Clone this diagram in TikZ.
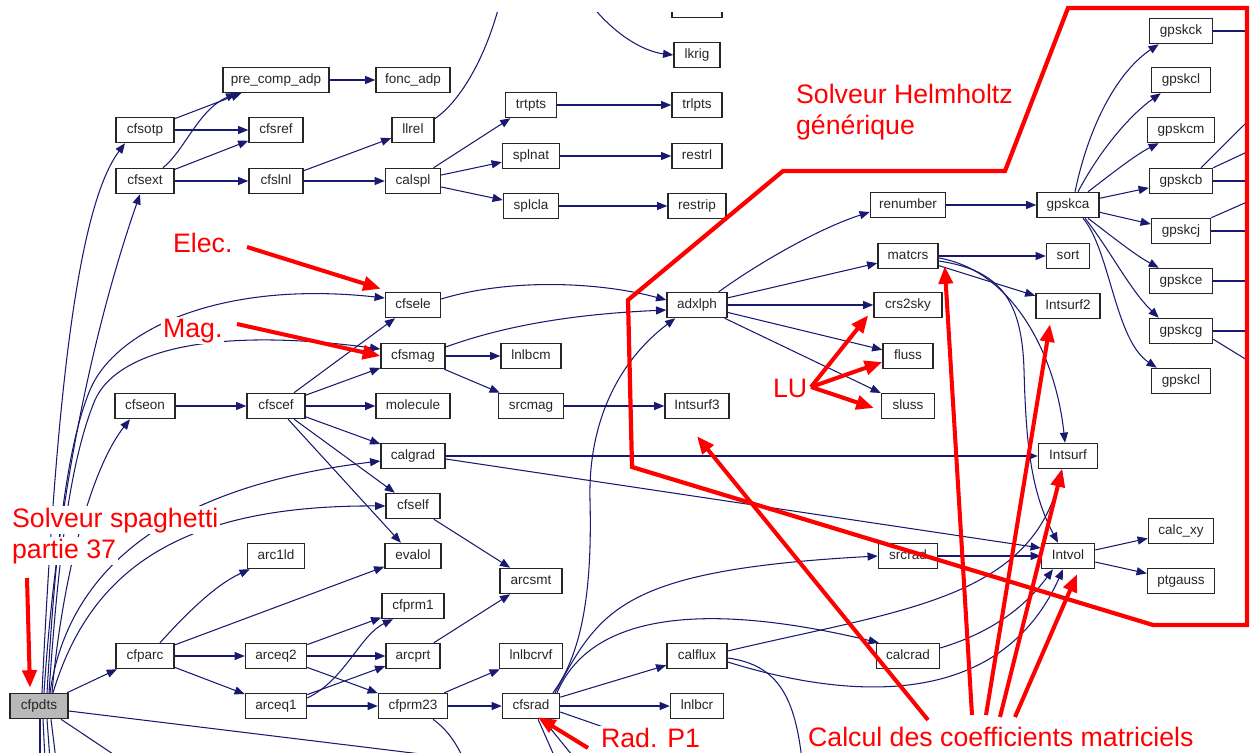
\documentclass[tikz,border=0pt]{standalone}
\usepackage{fontspec}
\setmainfont{Liberation Sans}
\usetikzlibrary{arrows.meta,calc}
\definecolor{edgeblue}{HTML}{191970}
\definecolor{annred}{HTML}{FF0000}
\newcommand\mknode[4]{\node[box,minimum width=#3*0.569pt] (#1) at (#2) {#4};}
\begin{document}
\begin{tikzpicture}[x=0.02cm,y=-0.02cm,
  box/.style={draw=black!85, line width=0.85pt, fill=white, minimum height=0.5cm, inner sep=0pt,
    font=\fontsize{7.7}{9}\selectfont, text=black!85, text height=5.4pt, text depth=1.6pt},
  e/.style={draw=edgeblue, line width=0.6pt, -{Triangle[length=5.8pt,width=4.6pt]}},
  en/.style={draw=edgeblue, line width=0.6pt},
  lab/.style={text=annred, fill=white, font=\fontsize{15.2}{18}\selectfont, inner sep=1pt, anchor=base west},
  ra/.style={draw=annred, line width=2.3pt, -{Triangle[length=10pt,width=8pt]}},
]
\useasboundingbox (0,0) rectangle (1250,753);
\begin{scope}
\clip (0,13) rectangle (1250,760);
% ---------- nodes ----------
\mknode{prec}{276,80}{106}{pre\_comp\_adp}
\mknode{foncadp}{413,80}{74}{fonc\_adp}
\mknode{cfsotp}{145,130}{58}{cfsotp}
\mknode{cfsref}{276,130}{54}{cfsref}
\mknode{llrel}{413,130}{42}{llrel}
\mknode{cfsext}{145,181}{58}{cfsext}
\mknode{cfslnl}{276,181}{54}{cfslnl}
\mknode{calspl}{413,181}{55}{calspl}
\mknode{trtpts}{531,105}{51}{trtpts}
\mknode{splnat}{531,156}{57}{splnat}
\mknode{splcla}{531,206}{55}{splcla}
\mknode{topbox}{697,5}{50}{}
\mknode{lkrig}{697,55}{46}{lkrig}
\mknode{trlpts}{697,105}{50}{trlpts}
\mknode{restrl}{697,156}{50}{restrl}
\mknode{restrip}{697,206}{58}{restrip}
\mknode{renumber}{908,205}{75}{renumber}
\mknode{gpskca}{1068,205}{62}{gpskca}
\mknode{matcrs}{908,256}{60}{matcrs}
\mknode{sort}{1068,256}{43}{sort}
\mknode{crssky}{908,305}{68}{crs2sky}
\mknode{intsurfb}{1068,306}{64}{Intsurf2}
\mknode{fluss}{908,356}{50}{fluss}
\mknode{sluss}{908,406}{53}{sluss}
\mknode{gpskck}{1181,31}{63}{gpskck}
\mknode{gpskcl}{1181,80}{59}{gpskcl}
\mknode{gpskcm}{1181,130}{67}{gpskcm}
\mknode{gpskcb}{1181,181}{63}{gpskcb}
\mknode{gpskcj}{1181,231}{59}{gpskcj}
\mknode{gpskce}{1181,281}{63}{gpskce}
\mknode{gpskcg}{1181,331}{63}{gpskcg}
\mknode{gpskclb}{1181,381}{59}{gpskcl}
\mknode{cfsele}{413,305}{55}{cfsele}
\mknode{cfsmag}{413,356}{64}{cfsmag}
\mknode{lnlbcm}{531,356}{60}{lnlbcm}
\mknode{adxlph}{697,305}{60}{adxlph}
\mknode{cfseon}{145,406}{60}{cfseon}
\mknode{cfscef}{276,406}{58}{cfscef}
\mknode{molecule}{413,406}{74}{molecule}
\mknode{srcmag}{531,406}{65}{srcmag}
\mknode{intsurfc}{697,406}{64}{Intsurf3}
\mknode{calgrad}{413,456}{64}{calgrad}
\mknode{intsurf}{1068,456}{59}{Intsurf}
\mknode{cfself}{413,506}{54}{cfself}
\mknode{evalol}{413,556}{56}{evalol}
\mknode{arcild}{276,556}{57}{arc1ld}
\mknode{arcsmt}{531,581}{62}{arcsmt}
\mknode{cfprmi}{413,606}{62}{cfprm1}
\mknode{cfparc}{145,656}{58}{cfparc}
\mknode{arceqb}{276,656}{61}{arceq2}
\mknode{arcprt}{413,656}{54}{arcprt}
\mknode{lnlbcrvf}{531,656}{63}{lnlbcrvf}
\mknode{calflux}{697,656}{60}{calflux}
\mknode{calcrad}{908,656}{63}{calcrad}
\node[box,fill=gray!55,minimum width=58*0.569pt] (cfpdts) at (39,706) {cfpdts};
\mknode{arceqa}{276,706}{61}{arceq1}
\mknode{cfprm}{413,706}{69}{cfprm23}
\mknode{cfsrad}{531,706}{57}{cfsrad}
\mknode{lnlbcr}{697,706}{53}{lnlbcr}
\mknode{srcrad}{908,556}{59}{srcrad}
\mknode{intvol}{1068,556}{53}{Intvol}
\mknode{calcxy}{1181,531}{65}{calc\_xy}
\mknode{ptgauss}{1181,581}{67}{ptgauss}
% free ends
\coordinate (tA) at (499,6);
\coordinate (tB) at (592,6);
\coordinate (d1) at (40,760);
\coordinate (d2) at (45,760);
\coordinate (d3) at (50,760);
\coordinate (d4) at (56,760);
\coordinate (d5) at (122,760);
\coordinate (d6) at (470,760);
\coordinate (d7) at (464,760);
\coordinate (d8) at (556,760);
\coordinate (d9) at (576,760);
\coordinate (d10) at (612,730);
\coordinate (d11) at (802,760);
\coordinate (r1) at (1247,31);
\coordinate (r2) at (1247,181);
\coordinate (r3) at (1247,122);
\coordinate (r4) at (1247,152);
\coordinate (r5) at (1247,202);
\coordinate (r6) at (1247,231);
\coordinate (r7) at (1247,281);
\coordinate (r8) at (1247,331);
\coordinate (r9) at (1247,360);
% ---------- edges: top area ----------
\draw[e] (cfsotp) -- (prec);
\draw[e] (cfsotp) -- (cfsref);
\draw[e] ([shift={(18,0)}]cfsext.north) .. controls (185,150) and (198,110) .. ([shift={(14,0)}]prec.south west);
\draw[e] (cfsext) -- (cfsref);
\draw[e] (cfsext) -- (cfslnl);
\draw[e] (cfslnl) -- (llrel);
\draw[e] (cfslnl) -- (calspl);
\draw[e] (prec) -- (foncadp);
\draw[en] ([shift={(0,2)}]llrel.north east) .. controls (462,100) and (486,55) .. (tA);
\draw[e] (tB) .. controls (620,40) and (648,52) .. (lkrig.west);
\draw[e] (calspl) -- (trtpts);
\draw[e] (calspl) -- (splnat);
\draw[e] (calspl) -- (splcla);
\draw[e] (trtpts) -- (trlpts);
\draw[e] (splnat) -- (restrl);
\draw[e] (splcla) -- (restrip);
% ---------- cfpdts fan ----------
\draw[e] ([shift={(3,0)}]cfpdts.north) .. controls (55,420) and (75,210) .. ([shift={(-20,0)}]cfsotp.south);
\draw[e] ([shift={(5,0)}]cfpdts.north) .. controls (60,450) and (110,280) .. ([shift={(-5,0)}]cfsext.south);
\draw[e] ([shift={(8,0)}]cfpdts.north) .. controls (55,560) and (65,450) .. (90,390) .. controls (115,330) and (220,280) .. ([shift={(0,-7)}]cfsele.west);
\draw[e] ([shift={(10,0)}]cfpdts.north) .. controls (58,560) and (70,460) .. (95,400) .. controls (115,355) and (200,325) .. ([shift={(0,-7)}]cfsmag.west);
\draw[e] ([shift={(13,0)}]cfpdts.north) .. controls (62,580) and (90,470) .. ([shift={(-15,0)}]cfseon.south);
\draw[e] ([shift={(11,0)}]cfpdts.north) .. controls (65,590) and (140,490) .. ([shift={(0,5)}]calgrad.west);
\draw[e] ([shift={(14,0)}]cfpdts.north) .. controls (90,570) and (180,505) .. (cfself.west);
\draw[e] (cfpdts) -- (cfparc);
\draw[en] ([shift={(1,0)}]cfpdts.south) -- (d1);
\draw[en] ([shift={(4,0)}]cfpdts.south) -- (d2);
\draw[en] ([shift={(8,0)}]cfpdts.south) -- (d3);
\draw[en] ([shift={(12,0)}]cfpdts.south) -- (d4);
\draw[en] ([shift={(22,0)}]cfpdts.south) -- (d5);
\draw[en] ([shift={(0,5)}]cfpdts.east) -- (d6);
% ---------- cfparc area ----------
\draw[e] ([shift={(15,0)}]cfparc.north) .. controls (185,615) and (215,585) .. ([shift={(3,0)}]arcild.south west);
\draw[e] (cfparc) -- (evalol);
\draw[e] (cfparc) -- (arceqb);
\draw[e] (cfparc) -- (arceqa);
\draw[e] (arceqb) -- (cfprmi);
\draw[e] (arceqb) -- (arcprt);
\draw[e] (arceqb) -- (cfprm);
\draw[e] ([shift={(0,-8)}]arceqa.east) .. controls (345,680) and (360,635) .. ([shift={(-20,0)}]cfprmi.south);
\draw[e] (arceqa) -- (arcprt);
\draw[e] (arceqa) -- (cfprm);
\draw[e] (arcprt) -- (arcsmt);
\draw[e] (cfself) -- (arcsmt);
\draw[e] (cfprm) -- (lnlbcrvf);
\draw[e] (cfprm) -- (cfsrad);
\draw[en] ([shift={(20,0)}]cfprm.south) .. controls (445,728) and (455,740) .. (d7);
% ---------- cfsrad ----------
\draw[e] (cfsrad) -- (calflux);
\draw[e] (cfsrad) -- (lnlbcr);
\draw[e] ([shift={(22,0)}]cfsrad.north) .. controls (585,650) and (592,580) .. (590,500) .. controls (588,420) and (620,360) .. ([shift={(9,0)}]adxlph.south west);
\draw[e] ([shift={(24,0)}]cfsrad.north) .. controls (600,610) and (620,570) .. (srcrad.west);
\draw[e] ([shift={(26,0)}]cfsrad.north) .. controls (590,615) and (700,600) .. ([shift={(3,0)}]calcrad.north west);
\draw[en] ([shift={(7,0)}]cfsrad.south) -- (d8);
\draw[en] ([shift={(12,0)}]cfsrad.south) -- (d9);
\draw[en] ([shift={(0,6)}]cfsrad.east) -- (d10);
% ---------- calflux / calcrad / srcrad ----------
\draw[e] ([shift={(0,-5)}]calflux.east) .. controls (900,610) and (1030,600) .. ([shift={(-6,0)}]intsurf.south);
\draw[e] ([shift={(0,6)}]calflux.east) .. controls (850,700) and (1000,710) .. ([shift={(-5,0)}]intvol.south);
\draw[en] ([shift={(0,2)}]calflux.east) .. controls (780,665) and (795,700) .. (d11);
\draw[e] ([shift={(0,-8)}]calcrad.east) .. controls (1000,630) and (1030,600) .. ([shift={(-15,0)}]intvol.south);
\draw[e] (srcrad) -- (intvol);
\draw[e] (calgrad) -- (intsurf);
\draw[e] ([shift={(0,3)}]calgrad.east) -- ([shift={(0,-8)}]intvol.west);
\draw[e] (intvol) -- (calcxy);
\draw[e] (intvol) -- (ptgauss);
% ---------- matcrs ----------
\draw[e] (matcrs) -- (sort);
\draw[e] (matcrs) -- (intsurfb);
\draw[e] ([shift={(0,2)}]matcrs.east) .. controls (1010,270) and (1055,350) .. ([shift={(-3,0)}]intsurf.north);
\draw[e] ([shift={(0,5)}]matcrs.east) .. controls (1000,270) and (1022,300) .. (1024,370) .. controls (1026,440) and (1030,490) .. ([shift={(-10,0)}]intvol.north);
% ---------- adxlph ----------
\draw[e] ([shift={(-9,0)}]adxlph.north east) .. controls (760,262) and (820,228) .. ([shift={(0,7)}]renumber.west);
\draw[e] (adxlph) -- (matcrs);
\draw[e] (adxlph) -- (crssky);
\draw[e] (adxlph) -- (fluss);
\draw[e] (adxlph) -- (sluss);
\draw[e] (renumber) -- (gpskca);
% ---------- gpskca fan ----------
\draw[e] ([shift={(7,0)}]gpskca.north) .. controls (1090,120) and (1120,70) .. ([shift={(10,0)}]gpskck.south west);
\draw[e] ([shift={(10,0)}]gpskca.north) .. controls (1100,150) and (1130,115) .. ([shift={(10,0)}]gpskcl.south west);
\draw[e] ([shift={(20,0)}]gpskca.north) .. controls (1110,175) and (1135,155) .. ([shift={(12,0)}]gpskcm.south west);
\draw[e] (gpskca) -- (gpskcb);
\draw[e] (gpskca) -- (gpskcj);
\draw[e] ([shift={(20,0)}]gpskca.south) .. controls (1110,235) and (1135,255) .. ([shift={(10,0)}]gpskce.north west);
\draw[e] ([shift={(17,0)}]gpskca.south) .. controls (1110,250) and (1130,290) .. ([shift={(10,0)}]gpskcg.north west);
\draw[e] ([shift={(15,0)}]gpskca.south) .. controls (1110,250) and (1115,340) .. ([shift={(6,0)}]gpskclb.north west);
\draw[en] (gpskck.east) -- (r1);
\draw[en] (gpskcb.east) -- (r2);
\draw[en] ([shift={(20,0)}]gpskcb.north) -- (r3);
\draw[en] (gpskcb.north east) -- (r4);
\draw[en] (gpskcj.north east) -- (r5);
\draw[en] (gpskcj.east) -- (r6);
\draw[en] (gpskce.east) -- (r7);
\draw[en] (gpskcg.east) -- (r8);
\draw[en] ([shift={(0,-5)}]gpskcg.south east) -- (r9);
% ---------- middle ----------
\draw[e] ([shift={(0,-6)}]cfsele.east) .. controls (510,278) and (600,282) .. ([shift={(0,-5)}]adxlph.west);
\draw[e] ([shift={(0,-9)}]cfsmag.east) .. controls (520,320) and (600,313) .. ([shift={(0,5)}]adxlph.west);
\draw[e] (cfsmag) -- (lnlbcm);
\draw[e] (cfsmag) -- (srcmag);
\draw[e] (srcmag) -- (intsurfc);
\draw[e] (cfseon) -- (cfscef);
\draw[e] (cfscef) -- (cfsele);
\draw[e] (cfscef) -- (cfsmag);
\draw[e] (cfscef) -- (molecule);
\draw[e] (cfscef) -- (calgrad);
\draw[e] (cfscef) -- (cfself);
\draw[e] (cfscef) -- (evalol);
\end{scope}
% ---------- red annotations ----------
\node[lab] (lhelma) at (794,104) {Solveur Helmholtz};
\node[lab] (lhelmb) at (794,135) {générique};
\node[lab] (lelec) at (171,253) {Elec.};
\node[lab] (lmag) at (161,337) {Mag.};
\node[lab] (llu) at (771,397) {LU};
\node[lab] (lrad) at (599,747) {Rad. P1};
\node[lab] (lcalc) at (806,746) {Calcul des coefficients matriciels};
\node[lab] (lspa) at (10,527) {Solveur spaghetti};
\node[lab] (lspb) at (10,558) {partie 37};
\coordinate (sElec) at (247,247);
\coordinate (sMag) at (237,324);
\coordinate (sLU) at (811,387);
\coordinate (ca) at (928,720);
\coordinate (cb) at (972,715);
\coordinate (cc) at (986,715);
\coordinate (cd) at (1000,717);
\coordinate (ce) at (1015,717);
\coordinate (sRad) at (588,748);
\coordinate (sSp) at (27,578);
\draw[ra] (sElec) -- ([shift={(-4,-3)}]cfsele.north west);
\draw[ra] (sMag) -- (cfsmag.west);
\draw[ra] (sLU) -- ([shift={(-5,-3)}]crssky.south west);
\draw[ra] (sLU) -- ([shift={(0,6)}]fluss.west);
\draw[ra] (sLU) -- ([shift={(-7,2)}]sluss.west);
\draw[ra] (ca) -- ([shift={(0,17)}]intsurfc.south);
\draw[ra] (cb) -- ([shift={(6,-3)}]matcrs.south east);
\draw[ra] (cc) -- ([shift={(-18,5)}]intsurfb.south);
\draw[ra] (cd) -- ([shift={(-6,0)}]intsurf.south);
\draw[ra] (ce) -- ([shift={(9,5)}]intvol.south);
\draw[ra] (sRad) -- ([shift={(7,-2)}]cfsrad.south);
\draw[ra] (sSp) -- ([shift={(-9,-5)}]cfpdts.north);
\draw[draw=annred, line width=2.4pt, line join=miter]
  (628,300) -- (632,467) -- (1153,625) -- (1247,625) -- (1247,8) -- (1068,8) -- (1005,171) -- (783,171) -- cycle;
\end{tikzpicture}
\end{document}
